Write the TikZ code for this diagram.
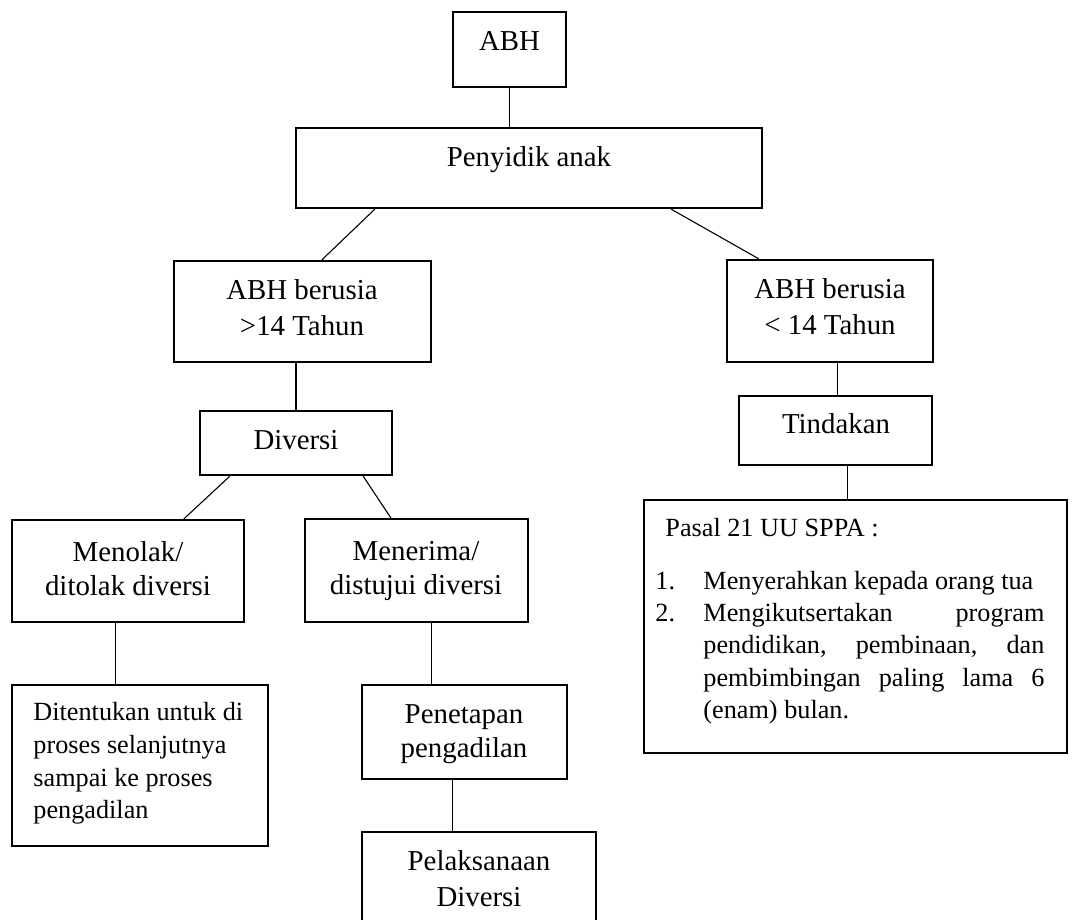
\documentclass[tikz,border=0pt]{standalone}
\usepackage{fontspec}
\setmainfont{Liberation Serif}
\newdimen\U \U=0.4575pt
\newcommand\bx[5]{%
  \pgfmathsetmacro\bxcx{(#2+#4)/2}\pgfmathsetmacro\bxcy{(#3+#5)/2}%
  \pgfmathsetmacro\bxw{#4-#2}\pgfmathsetmacro\bxh{#5-#3}%
  \node[box,minimum width=\bxw\U,minimum height=\bxh\U] (#1) at (\bxcx,\bxcy) {};}
\tikzset{
  box/.style={draw, rectangle, line width=1.05pt, inner sep=0pt, fill=none},
  lbl/.style={anchor=base, inner sep=0pt, font=\fontsize{13.2}{15}\selectfont},
  sml/.style={anchor=base west, inner sep=0pt, font=\fontsize{12}{14}\selectfont},
  conn/.style={line width=0.5pt}
}
\begin{document}
\begin{tikzpicture}[x=0.4575pt,y=-0.4575pt]
\useasboundingbox (0,0) rectangle (1072,919);
\clip (0,0) rectangle (1072,919);
\fill[white] (0,0) rectangle (1072,919);
% boxes
\bx{abh}{453}{12}{566}{87}
\bx{pen}{296}{128}{762}{208}
\bx{a14}{174}{261}{431}{362}
\bx{b14}{727}{260}{933}{362}
\bx{div}{200}{411}{392}{475}
\bx{tin}{739}{396}{932}{465}
\bx{tol}{12}{520}{244}{622}
\bx{ter}{305}{519}{528}{622}
\bx{det}{12}{685}{268}{846}
\bx{pet}{362}{685}{567}{779}
\bx{pel}{362}{832}{596}{950}
\bx{pas}{644}{500}{1067}{753}
% connectors
\draw[conn] (abh.south) -- (abh.south |- pen.north);
\draw[conn] ([xshift=80\U]pen.south west) -- ([xshift=149\U]a14.north west);
\draw[conn] ([xshift=-92\U]pen.south east) -- ([xshift=33\U]b14.north west);
\draw[conn] (div.north |- a14.south) -- (div.north);
\draw[conn] ([xshift=2\U]tin.north |- b14.south) -- ([xshift=2\U]tin.north);
\draw[conn] ([xshift=12\U]tin.south) -- ([xshift=12\U]tin.south |- pas.north);
\draw[conn] ([xshift=31\U]div.south west) -- ([xshift=173\U]tol.north west);
\draw[conn] ([xshift=-30\U]div.south east) -- ([xshift=87\U]ter.north west);
\draw[conn] ([xshift=105\U]tol.south west) -- ([xshift=105\U]det.north west);
\draw[conn] ([xshift=128\U]ter.south west) -- ([xshift=128\U]ter.south west |- pet.north);
\draw[conn] ([xshift=92\U]pet.south west) -- ([xshift=92\U]pet.south west |- pel.north);
% labels
\node[lbl] (t-abh) at (509.5,50) {ABH};
\node[lbl] (t-pen) at (529,166) {Penyidik anak};
\node[lbl] (t-a14a) at (302,299) {ABH berusia};
\node[lbl] (t-a14b) at (302,335) {>14 Tahun};
\node[lbl] (t-b14a) at (830,298) {ABH berusia};
\node[lbl] (t-b14b) at (830,334) {< 14 Tahun};
\node[lbl] (t-div) at (296,449) {Diversi};
\node[lbl] (t-tin) at (836,433) {Tindakan};
\node[lbl] (t-tola) at (128,561) {Menolak/};
\node[lbl] (t-tolb) at (128,595) {ditolak diversi};
\node[lbl] (t-tera) at (416,560) {Menerima/};
\node[lbl] (t-terb) at (416,594) {distujui diversi};
\node[sml] (t-det1) at (33,720) {Ditentukan untuk di};
\node[sml] (t-det2) at (33,753) {proses selanjutnya};
\node[sml] (t-det3) at (33,786) {sampai ke proses};
\node[sml] (t-det4) at (33,818) {pengadilan};
\node[lbl] (t-peta) at (464,723) {Penetapan};
\node[lbl] (t-petb) at (464,757) {pengadilan};
\node[lbl] (t-pela) at (479,870) {Pelaksanaan};
\node[lbl] (t-pelb) at (479,906) {Diversi};
\node[sml] (t-pas0) at (665,536) {Pasal 21 UU SPPA :};
\node[sml] (t-n1) at (655,589) {1.};
\node[sml] (t-i1) at (703,589) {Menyerahkan kepada orang tua};
\node[sml] (t-n2) at (655,621) {2.};
\node[sml] (t-i2a) at (703,621) {\makebox[341\U][s]{Mengikutsertakan program}};
\node[sml] (t-i2b) at (703,653) {\makebox[341\U][s]{pendidikan, pembinaan, dan}};
\node[sml] (t-i2c) at (703,686) {\makebox[341\U][s]{pembimbingan paling lama 6}};
\node[sml] (t-i2d) at (703,718) {(enam) bulan.};
\end{tikzpicture}
\end{document}
